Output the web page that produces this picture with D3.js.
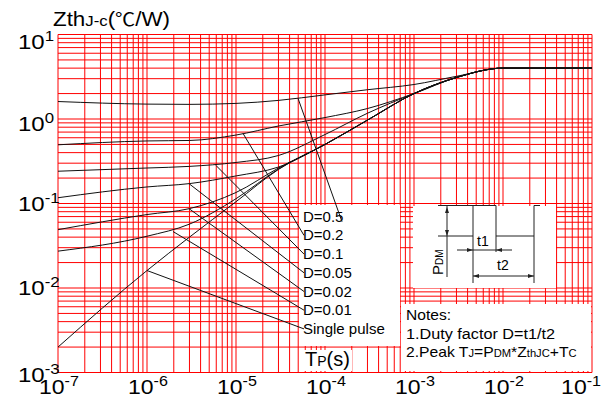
<!DOCTYPE html>
<html><head><meta charset="utf-8">
<script src="https://cdn.jsdelivr.net/npm/d3@7"></script>
<style>body{margin:0;background:#fff}svg{display:block}text{font-family:"Liberation Sans",Arial,sans-serif}</style>
</head><body>
<svg id="c" width="611" height="398"></svg>
<script>
const times = [1e-7, 1e-6, 3e-6, 1e-5, 3e-5, 1e-4, 3e-4, 1e-3, 3e-3, 1e-2, 1e-1];
const d05 = [1.61, 1.50, 1.49, 1.53, 1.66, 1.93, 2.22, 2.56, 3.2, 4.0, 4.0];
const d02 = [0.495, 0.55, 0.557, 0.646, 0.826, 1.04, 1.33, 2.0, 3.1, 4.0, 4.0];
const d01 = [0.241, 0.263, 0.275, 0.306, 0.37, 0.655, 1.17, 2.0, 3.1, 4.0, 4.0];
const d005 = [0.117, 0.157, 0.172, 0.212, 0.27, 0.50, 0.97, 2.0, 3.1, 4.0, 4.0];
const d002 = [0.049, 0.074, 0.087, 0.135, 0.263, 0.50, 0.97, 2.0, 3.1, 4.0, 4.0];
const d001 = [0.0273, 0.041, 0.057, 0.114, 0.256, 0.50, 0.97, 2.0, 3.1, 4.0, 4.0];
const single = [0.0020, 0.0161, 0.040, 0.105, 0.253, 0.50, 0.97, 2.0, 3.1, 4.0, 4.0];
const seriesNames = ["D=0.5", "D=0.2", "D=0.1", "D=0.05", "D=0.02", "D=0.01", "Single pulse"];
const seriesValues = [d05, d02, d01, d005, d002, d001, single];
// leader start points on each curve [t, Z]
const leaderT = [4.98e-5, 1.2e-5, 5.96e-6, 2.96e-6, 2.96e-6, 1.96e-6, 1e-6];
const leaderZ = [1.75, 0.674, 0.282, 0.172, 0.087, 0.0466, 0.0161];
const xTickExp = [-7, -6, -5, -4, -3, -2, -1];
const yTickExp = [1, 0, -1, -2, -3];
const titleParts = ["Zth", "J-c", "(", "\u2103", "/W)"];
const notes = ["Notes:", "1.Duty factor D=t1/t2"];

const svg = d3.select("#c");
const L = 58, R = 592, T = 34.5, B = 372.5;
const x = d3.scaleLog().domain([1e-7, 1e-1]).range([L, R]);
const y = d3.scaleLog().domain([1e-3, 1e1]).range([B, T]);

// grid
const g = svg.append("g");
const xt = [], yt = [];
for (let e = -7; e <= -1; e++) for (let m = 1; m <= 9; m++) { const v = m * Math.pow(10, e); if (v <= 0.1000001) xt.push(v); }
for (let e = -3; e <= 1; e++) for (let m = 1; m <= 9; m++) { const v = m * Math.pow(10, e); if (v <= 10.00001) yt.push(v); }
g.selectAll(".vx").data(xt).join("line").attr("x1", d => x(d)).attr("x2", d => x(d)).attr("y1", T).attr("y2", B).attr("stroke", "#ff0000").attr("stroke-width", 1);
g.selectAll(".hy").data(yt).join("line").attr("y1", d => y(d)).attr("y2", d => y(d)).attr("x1", L).attr("x2", R).attr("stroke", "#ff0000").attr("stroke-width", 1);

// curves
const line = d3.line().x(d => x(d[0])).y(d => y(d[1])).curve(d3.curveMonotoneX);
seriesValues.forEach(vals => {
  svg.append("path").datum(times.map((t, i) => [t, vals[i]])).attr("d", line)
    .attr("fill", "none").attr("stroke", "#111").attr("stroke-width", 1);
});

// white boxes
svg.append("rect").attr("x", 299).attr("y", 205).attr("width", 101).attr("height", 141).attr("fill", "#fff");
svg.append("rect").attr("x", 300).attr("y", 350).attr("width", 52).attr("height", 21).attr("fill", "#fff");
svg.append("rect").attr("x", 413).attr("y", 206).attr("width", 143).attr("height", 82).attr("fill", "#fff");
svg.append("rect").attr("x", 401).attr("y", 304).attr("width", 190).attr("height", 67).attr("fill", "#fff");

// legend labels + leaders
const lx = 303, ly0 = 221.7, ldy = 18.7;
seriesNames.forEach((n, i) => {
  const by = ly0 + i * ldy;
  svg.append("text").attr("x", lx).attr("y", by).attr("font-size", 15).text(n);
  svg.append("line").attr("x1", x(leaderT[i])).attr("y1", y(leaderZ[i]))
    .attr("x2", i === 0 ? 342 : lx + 1).attr("y2", i === 0 ? by : by - 5)
    .attr("stroke", "#111").attr("stroke-width", 1);
});

// axis tick labels (glyphs slightly wide, as in the reference)
const yOff = [14.5, 11.5, 7.7, 6.8, 9];
yTickExp.forEach((e, i) => {
  const yy = y(Math.pow(10, e)) + yOff[i];
  const t = svg.append("text").attr("transform", `translate(18,${yy}) scale(1.2,1)`).attr("font-size", 20);
  t.append("tspan").text("10");
  t.append("tspan").attr("font-size", 14).attr("dy", -8).text(e);
});
xTickExp.forEach((e, i) => {
  const last = i === xTickExp.length - 1;
  const px = last ? 601 : x(Math.pow(10, e)) + 1;
  const t = svg.append("text").attr("transform", `translate(${px},394) scale(1.15,1)`).attr("text-anchor", last ? "end" : "middle").attr("font-size", 20);
  t.append("tspan").text("10");
  t.append("tspan").attr("font-size", 14).attr("dy", -8).text(e);
});

// title
const tt = svg.append("text").attr("x", 53).attr("y", 26).attr("font-size", 20).attr("textLength", 117).attr("lengthAdjust", "spacingAndGlyphs");
tt.append("tspan").text(titleParts[0]);
tt.append("tspan").attr("font-size", 15).text(titleParts[1]);
tt.append("tspan").text(titleParts[2]);
tt.append("tspan").attr("font-family", "'Noto Sans CJK SC'").attr("font-size", 18).text(titleParts[3]);
tt.append("tspan").text(titleParts[4]);

// Tp(s)
const tp = svg.append("text").attr("x", 305).attr("y", 366).attr("font-size", 20);
tp.append("tspan").text("T");
tp.append("tspan").attr("font-size", 14).text("P");
tp.append("tspan").text("(s)");

// notes
svg.append("text").attr("x", 406).attr("y", 320).attr("font-size", 14).attr("textLength", 45).attr("lengthAdjust", "spacingAndGlyphs").text(notes[0]);
svg.append("text").attr("x", 406).attr("y", 339).attr("font-size", 14).attr("textLength", 149).attr("lengthAdjust", "spacingAndGlyphs").text(notes[1]);
const n2 = svg.append("text").attr("transform", "translate(406,357) scale(1.12,1)").attr("font-size", 14);
n2.append("tspan").text("2.Peak T");
n2.append("tspan").attr("font-size", 10).text("J");
n2.append("tspan").text("=P");
n2.append("tspan").attr("font-size", 10).text("DM");
n2.append("tspan").text("*Z");
n2.append("tspan").attr("font-size", 10).text("thJC");
n2.append("tspan").text("+T");
n2.append("tspan").attr("font-size", 10).text("C");

// waveform diagram
const w = svg.append("g").attr("stroke", "#222").attr("stroke-width", 1).attr("fill", "none");
w.append("path").attr("d", "M438,236H473V205.5H496V236H534V205.5H540");
w.append("line").attr("x1", 438).attr("y1", 205.5).attr("x2", 473).attr("y2", 205.5);
w.append("line").attr("x1", 447).attr("y1", 206).attr("x2", 447).attr("y2", 277);
w.append("line").attr("x1", 473).attr("y1", 236).attr("x2", 473).attr("y2", 283);
w.append("line").attr("x1", 496).attr("y1", 236).attr("x2", 496).attr("y2", 252);
w.append("line").attr("x1", 534).attr("y1", 236).attr("x2", 534).attr("y2", 283);
w.append("line").attr("x1", 457).attr("y1", 250).attr("x2", 512).attr("y2", 250);
w.append("line").attr("x1", 473).attr("y1", 276).attr("x2", 534).attr("y2", 276);
const ah = (px, py, dir) => svg.append("path").attr("d", dir === "r" ? `M${px},${py}l-6,-2v4z` : dir === "l" ? `M${px},${py}l6,-2v4z` : dir === "u" ? `M${px},${py}l-2,6h4z` : `M${px},${py}l-2,-6h4z`).attr("fill", "#222");
ah(473, 250, "r"); ah(496, 250, "l"); ah(473, 276, "l"); ah(534, 276, "r"); ah(447, 207, "u"); ah(447, 236, "d");
svg.append("text").attr("x", 477).attr("y", 246).attr("font-size", 14).text("t1");
svg.append("text").attr("x", 497).attr("y", 270).attr("font-size", 14).text("t2");
const pd = svg.append("text").attr("transform", "translate(443,275) rotate(-90)").attr("font-size", 15);
pd.append("tspan").text("P");
pd.append("tspan").attr("font-size", 10).text("DM");
</script>
</body></html>
